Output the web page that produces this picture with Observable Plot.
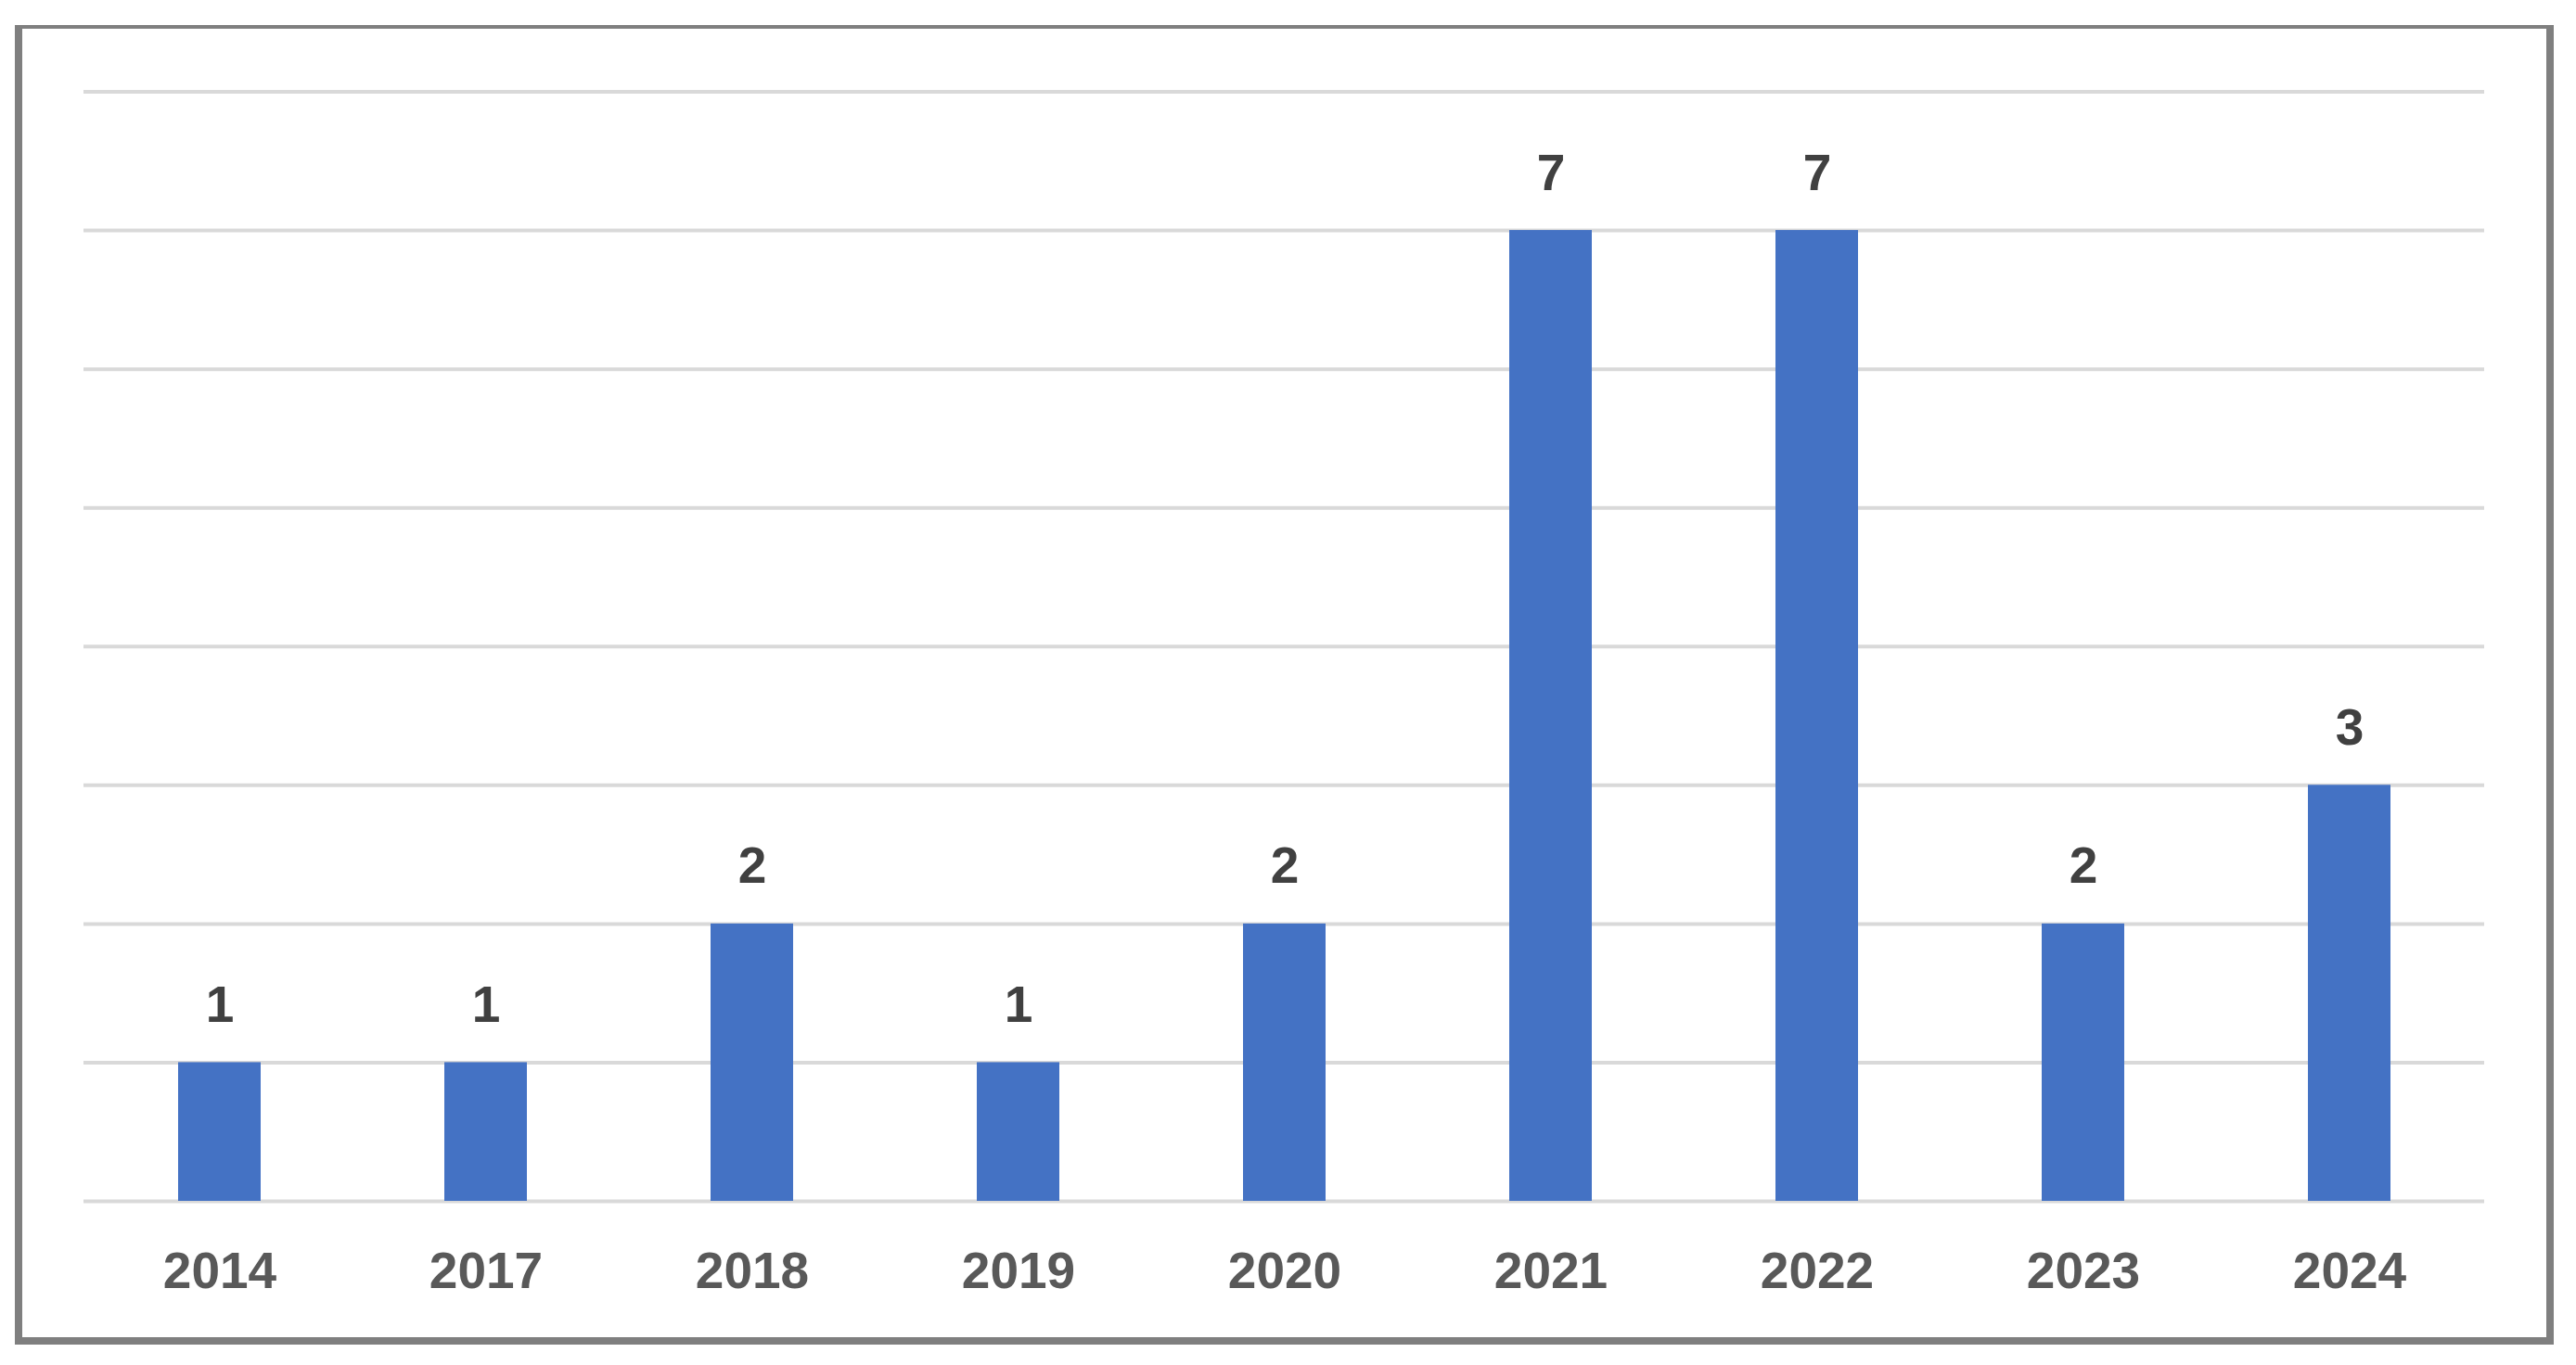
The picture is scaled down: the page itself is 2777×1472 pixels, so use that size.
<!DOCTYPE html>
<html>
<head>
<meta charset="utf-8">
<script src="https://cdn.jsdelivr.net/npm/d3@7"></script>
<script src="https://cdn.jsdelivr.net/npm/@observablehq/plot@0.6"></script>
<style>
  html, body { margin: 0; padding: 0; background: #fff; }
  #wrap { position: relative; width: 2777px; height: 1472px; overflow: hidden; }
  #frame {
    position: absolute; left: 16px; top: 27px; width: 2737px; height: 1423px;
    box-sizing: border-box; border-style: solid; border-color: #7f7f7f;
    border-width: 4px 8px 8px 8px; pointer-events: none;
  }
</style>
</head>
<body>
<div id="wrap"><div id="frame"></div></div>
<script>
const years = ["2014", "2017", "2018", "2019", "2020", "2021", "2022", "2023", "2024"];
const counts = [1, 1, 2, 1, 2, 7, 7, 2, 3];
const yTicks = [0, 1, 2, 3, 4, 5, 6, 7, 8];

const data = years.map((y, i) => ({year: y, count: counts[i]}));

const chart = Plot.plot({
  width: 2777,
  height: 1472,
  marginLeft: 90,
  marginRight: 99,
  marginTop: 98.5,
  marginBottom: 177,
  style: {fontFamily: "'Liberation Sans', Arial, sans-serif", background: "transparent"},
  x: {domain: years, paddingInner: 0.69, paddingOuter: 0.345, label: null},
  y: {domain: [0, 8], label: null},
  marks: [
    Plot.ruleY(yTicks, {stroke: "#d9d9d9", strokeWidth: 4}),
    Plot.barY(data, {x: "year", y: "count", fill: "#4472C4"}),
    Plot.text(data, {
      x: "year", y: "count", text: d => String(d.count),
      lineAnchor: "bottom", dy: -44, fontSize: 55, fontWeight: "bold", fill: "#404040"
    }),
    Plot.axisX({tickSize: 0, tickPadding: 54, fontSize: 55, fontWeight: "bold", fill: "#595959", label: null}),
    Plot.axisY({ticks: [], tickSize: 0, label: null})
  ]
});
document.getElementById("wrap").prepend(chart);
</script>
</body>
</html>
